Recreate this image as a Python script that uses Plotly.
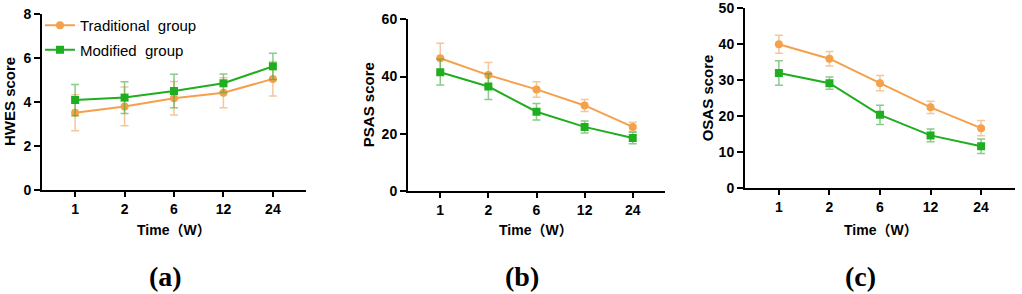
import plotly.graph_objects as go

W, H = 1022, 294

time_labels = ["1", "2", "6", "12", "24"]
x_idx = [0, 1, 2, 3, 4]

# Panel (a) HWES
hwes_trad = [3.51, 3.80, 4.17, 4.42, 5.05]
hwes_trad_err = [0.82, 0.88, 0.76, 0.68, 0.78]
hwes_mod = [4.09, 4.20, 4.50, 4.85, 5.62]
hwes_mod_err = [0.71, 0.72, 0.76, 0.42, 0.60]

# Panel (b) PSAS
psas_trad = [46.4, 40.5, 35.5, 29.9, 22.4]
psas_trad_err = [5.2, 4.4, 2.7, 2.1, 1.6]
psas_mod = [41.5, 36.5, 27.7, 22.4, 18.5]
psas_mod_err = [4.5, 4.5, 2.9, 2.1, 2.0]

# Panel (c) OSAS
osas_trad = [40.0, 36.0, 29.2, 22.5, 16.7]
osas_trad_err = [2.5, 2.0, 2.1, 1.7, 2.1]
osas_mod = [32.0, 29.2, 20.4, 14.7, 11.7]
osas_mod_err = [3.4, 1.7, 2.7, 1.8, 2.0]

ORANGE = "#F5A04A"
GREEN = "#1FAE1F"
ORANGE_ERR = "rgba(240,180,120,0.75)"
GREEN_ERR = "rgba(60,170,60,0.6)"

XTITLE = "Time\uff08W\uff09"

panels = [
    dict(trad=hwes_trad, trad_err=hwes_trad_err, mod=hwes_mod, mod_err=hwes_mod_err,
         ymax=8, dtick=2, px=(42, 306), py=(14, 190), ytitle="HWES score", ytx=10,
         tx=174, label="(a)", lx=165),
    dict(trad=psas_trad, trad_err=psas_trad_err, mod=psas_mod, mod_err=psas_mod_err,
         ymax=60, dtick=20, px=(408, 665), py=(19.3, 191), ytitle="PSAS score", ytx=368,
         tx=536, label="(b)", lx=522),
    dict(trad=osas_trad, trad_err=osas_trad_err, mod=osas_mod, mod_err=osas_mod_err,
         ymax=50, dtick=10, px=(745, 1015), py=(8.3, 188.3), ytitle="OSAS score", ytx=707,
         tx=881, label="(c)", lx=860),
]

fig = go.Figure()
tickfont = dict(family="Liberation Sans, Arial", size=14, color="black", weight="bold")
annotations = []

for i, p in enumerate(panels):
    n = "" if i == 0 else str(i + 1)
    xa, ya = "x" + n, "y" + n
    fig.add_trace(go.Scatter(
        x=x_idx, y=p["trad"], xaxis=xa, yaxis=ya,
        mode="lines+markers", name="Traditional\u00a0 group",
        line=dict(color=ORANGE, width=2),
        marker=dict(symbol="circle", size=8, color=ORANGE),
        error_y=dict(type="data", array=p["trad_err"], visible=True,
                     color=ORANGE_ERR, thickness=1.5, width=4),
        showlegend=(i == 0), legendgroup="trad",
    ))
    fig.add_trace(go.Scatter(
        x=x_idx, y=p["mod"], xaxis=xa, yaxis=ya,
        mode="lines+markers", name="Modified\u00a0 group",
        line=dict(color=GREEN, width=2),
        marker=dict(symbol="square", size=8, color=GREEN),
        error_y=dict(type="data", array=p["mod_err"], visible=True,
                     color=GREEN_ERR, thickness=1.5, width=4),
        showlegend=(i == 0), legendgroup="mod",
    ))
    x0, x1 = p["px"]
    y0, y1 = p["py"]
    fig.layout["xaxis" + n] = dict(
        domain=[x0 / W, x1 / W], anchor=ya, range=[-0.67, 4.67],
        tickvals=x_idx, ticktext=time_labels, showline=True, linecolor="black",
        linewidth=2, ticks="outside", ticklen=5, tickwidth=2, tickcolor="black",
        showgrid=False, zeroline=False, tickfont=tickfont, fixedrange=True,
        automargin=False,
    )
    fig.layout["yaxis" + n] = dict(
        domain=[1 - y1 / H, 1 - y0 / H], anchor=xa, range=[0, p["ymax"]],
        dtick=p["dtick"], showline=True, linecolor="black", linewidth=2,
        ticks="outside", ticklen=6, tickwidth=2, tickcolor="black",
        showgrid=False, zeroline=False, tickfont=tickfont, fixedrange=True,
        automargin=False,
    )
    annotations.append(dict(
        text=p["ytitle"], x=p["ytx"] / W, y=1 - ((y0 + y1) / 2) / H,
        xref="paper", yref="paper", textangle=-90, showarrow=False,
        xanchor="center", yanchor="middle",
        font=dict(family="Liberation Sans, Arial", size=15, color="black", weight="bold"),
    ))
    annotations.append(dict(
        text=XTITLE, x=p["tx"] / W, y=1 - 230 / H,
        xref="paper", yref="paper", showarrow=False,
        xanchor="center", yanchor="middle",
        font=dict(family="Liberation Sans, Arial, Noto Sans CJK SC", size=14,
                  color="black", weight="bold"),
    ))
    annotations.append(dict(
        text=p["label"], x=p["lx"] / W, y=1 - 276 / H,
        xref="paper", yref="paper", showarrow=False,
        xanchor="center", yanchor="middle",
        font=dict(family="Liberation Serif, Times New Roman", size=28,
                  color="black", weight="bold"),
    ))

fig.update_layout(
    width=W, height=H, autosize=False,
    margin=dict(l=0, r=0, t=0, b=0),
    paper_bgcolor="white", plot_bgcolor="white",
    annotations=annotations,
    legend=dict(x=40 / W, y=1 - 9 / H, xanchor="left", yanchor="top",
                bgcolor="rgba(0,0,0,0)", traceorder="grouped", tracegroupgap=2,
                font=dict(family="Liberation Sans, Arial", size=15, color="black")),
    showlegend=True,
)

fig.write_html(
    "out.html",
    config={"displayModeBar": False},
    post_script="document.body.style.margin='0';document.body.style.padding='0';"
                "document.body.style.overflow='hidden';",
)
